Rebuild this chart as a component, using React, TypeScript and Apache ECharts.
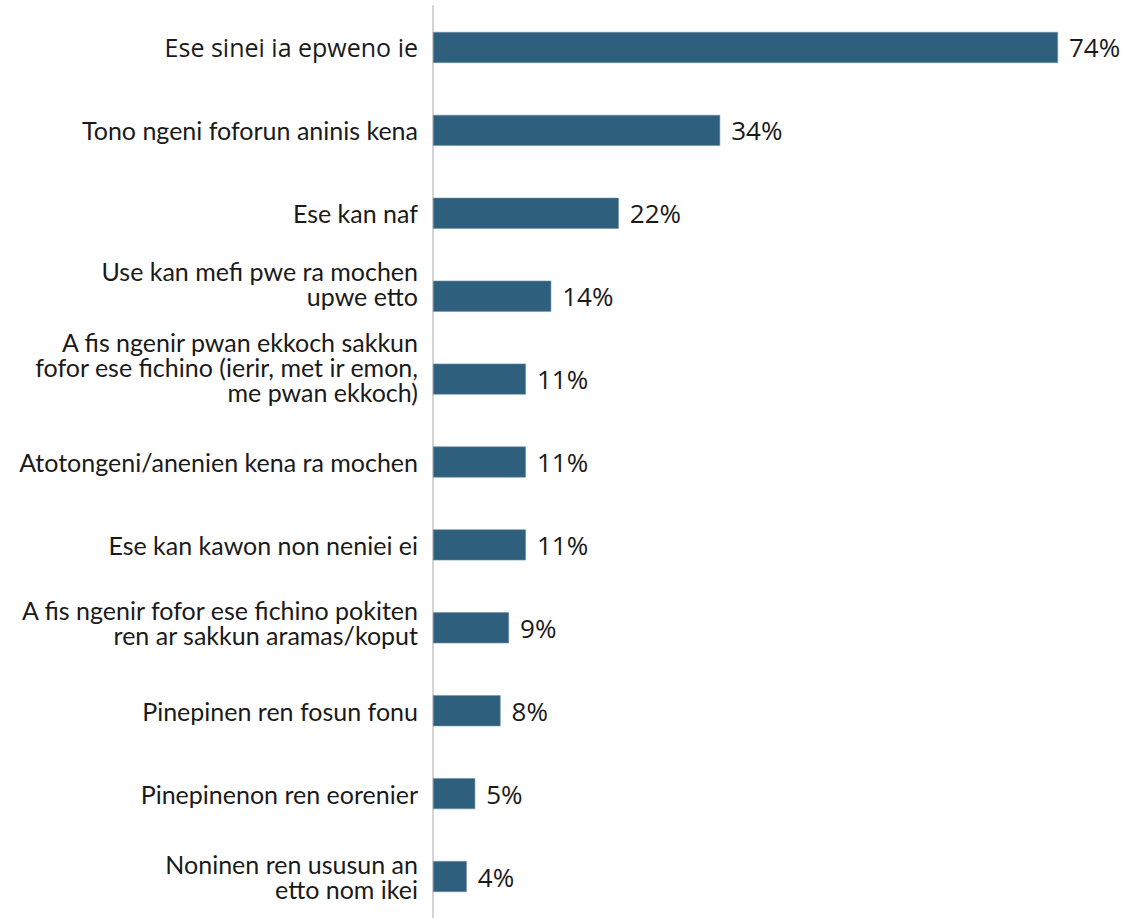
import React, { useEffect, useRef } from "react";
import * as echarts from "echarts";

const categories: string[] = [
  "Ese sinei ia epweno ie",
  "Tono ngeni foforun aninis kena",
  "Ese kan naf",
  "Use kan mefi pwe ra mochen\nupwe etto",
  "A fis ngenir pwan ekkoch sakkun\nfofor ese fichino (ierir, met ir emon,\nme pwan ekkoch)",
  "Atotongeni/anenien kena ra mochen",
  "Ese kan kawon non neniei ei",
  "A fis ngenir fofor ese fichino pokiten\nren ar sakkun aramas/koput",
  "Pinepinen ren fosun fonu",
  "Pinepinenon ren eorenier",
  "Noninen ren ususun an\netto nom ikei",
];

const values: number[] = [74, 34, 22, 14, 11, 11, 11, 9, 8, 5, 4];

// upward nudge of each category label in the reference (px)
const labelLift: number[] = [0, 0, 0, 13, 12, 0, 0, 5, 0, 0, 0];

export default function App() {
  const ref = useRef<HTMLDivElement>(null);
  useEffect(() => {
    if (!ref.current) return;
    const chart = echarts.init(ref.current, undefined, { renderer: "svg" });
    chart.setOption({
      animation: false,
      backgroundColor: "#ffffff",
      textStyle: { fontFamily: "Lato" },
      grid: { left: 433, top: 6, width: 625, height: 914, containLabel: false },
      xAxis: {
        type: "value",
        min: 0,
        max: 74,
        show: false,
      },
      yAxis: {
        type: "category",
        data: categories.map((c, i) =>
          labelLift[i] ? { value: c, textStyle: { padding: [0, 0, labelLift[i] * 2, 0] } } : c
        ),
        inverse: true,
        axisLine: { show: true, lineStyle: { color: "#d4d4d4", width: 2 } },
        axisTick: { show: false },
        axisLabel: {
          margin: 15,
          fontFamily: "Lato",
          fontSize: 25,
          lineHeight: 25,
          color: "#1a1a1a",
          align: "right",
          formatter: (v: string, i: number) => (i === 0 ? "{a|" + v + "}" : v),
          rich: {
            a: { fontFamily: "Open Sans", fontSize: 25, color: "#1a1a1a" },
          },
        },
        splitLine: { show: false },
      },
      series: [
        {
          type: "bar",
          data: values,
          barWidth: 31,
          itemStyle: { color: "#2e5f7c", borderColor: "#6f90a6", borderWidth: 0.6 },
          label: {
            show: true,
            position: "right",
            distance: 11,
            formatter: "{c}%",
            fontFamily: "Open Sans",
            fontSize: 26,
            color: "#1a1a1a",
          },
        },
      ],
    });
    return () => chart.dispose();
  }, []);
  return (
    <div
      ref={ref}
      style={{ position: "fixed", left: 0, top: 0, width: 1121, height: 918, background: "#fff" }}
    />
  );
}
